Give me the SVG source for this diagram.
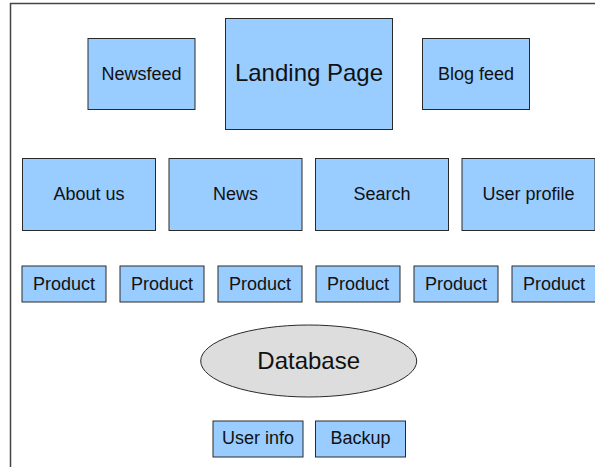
<svg xmlns="http://www.w3.org/2000/svg" width="595" height="467" viewBox="0 0 595 467">
  <style>
    .box { fill: #99ccff; stroke: #2a2a2a; stroke-width: 1; }
    .db { fill: #dddddd; stroke: #2a2a2a; stroke-width: 1; }
    .lbl { font-family: "Liberation Sans", Arial, sans-serif; font-size: 18px; fill: #111111; text-anchor: middle; }
    .big { font-size: 24px; }
    .frame { fill: none; stroke: #444444; stroke-width: 1.5; }
  </style>
  <rect width="595" height="467" fill="#ffffff"/>
  <!-- page frame -->
  <path class="frame" d="M10.5 470 V3.5 H600"/>

  <g id="connectors"></g>

  <!-- top row -->
  <g id="newsfeed">
    <rect class="box" x="88" y="38.5" width="107" height="71"/>
    <text class="lbl" x="141.5" y="79.5">Newsfeed</text>
  </g>
  <g id="landing-page">
    <rect class="box" x="225.5" y="18.5" width="167" height="111"/>
    <text class="lbl big" x="309" y="81">Landing Page</text>
  </g>
  <g id="blog-feed">
    <rect class="box" x="422.5" y="38.5" width="107" height="71"/>
    <text class="lbl" x="476" y="79.5">Blog feed</text>
  </g>

  <!-- section row -->
  <g id="about-us">
    <rect class="box" x="22.5" y="158.5" width="133" height="72"/>
    <text class="lbl" x="89" y="199.5">About us</text>
  </g>
  <g id="news">
    <rect class="box" x="169" y="158.5" width="133" height="72"/>
    <text class="lbl" x="235.5" y="199.5">News</text>
  </g>
  <g id="search">
    <rect class="box" x="315.5" y="158.5" width="133" height="72"/>
    <text class="lbl" x="382" y="199.5">Search</text>
  </g>
  <g id="user-profile">
    <rect class="box" x="462" y="158.5" width="133" height="72"/>
    <text class="lbl" x="528.5" y="199.5">User profile</text>
  </g>

  <!-- product row -->
  <g id="product-1">
    <rect class="box" x="22" y="266" width="84" height="36"/>
    <text class="lbl" x="64" y="289.5">Product</text>
  </g>
  <g id="product-2">
    <rect class="box" x="120" y="266" width="84" height="36"/>
    <text class="lbl" x="162" y="289.5">Product</text>
  </g>
  <g id="product-3">
    <rect class="box" x="218" y="266" width="84" height="36"/>
    <text class="lbl" x="260" y="289.5">Product</text>
  </g>
  <g id="product-4">
    <rect class="box" x="316" y="266" width="84" height="36"/>
    <text class="lbl" x="358" y="289.5">Product</text>
  </g>
  <g id="product-5">
    <rect class="box" x="414" y="266" width="84" height="36"/>
    <text class="lbl" x="456" y="289.5">Product</text>
  </g>
  <g id="product-6">
    <rect class="box" x="512" y="266" width="84" height="36"/>
    <text class="lbl" x="554" y="289.5">Product</text>
  </g>

  <!-- storage -->
  <g id="database">
    <ellipse class="db" cx="308.7" cy="361" rx="108" ry="36"/>
    <text class="lbl big" x="308.7" y="368.5">Database</text>
  </g>
  <g id="user-info">
    <rect class="box" x="213" y="421" width="90" height="36"/>
    <text class="lbl" x="258" y="444">User info</text>
  </g>
  <g id="backup">
    <rect class="box" x="315.5" y="421" width="90" height="36"/>
    <text class="lbl" x="360.5" y="444">Backup</text>
  </g>
</svg>
